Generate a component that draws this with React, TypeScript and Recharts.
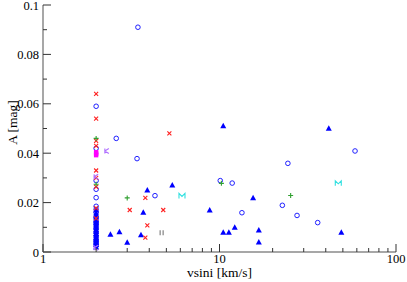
import React from 'react';
import { ScatterChart, Scatter, XAxis, YAxis, Label } from 'recharts';

// ---- data (vsini [km/s], A [mag]) ----
const circleV = [2, 2, 2, 2, 2, 2, 2, 2, 2, 2, 2, 2, 2, 2, 2, 2, 2, 2, 2, 3.45, 2.6, 3.41, 4.31, 10.1, 11.8, 24.4, 58.6, 22.7, 13.4, 27.5, 36.0];
const circleA = [0.059, 0.042, 0.0289, 0.0254, 0.022, 0.0185, 0.0172, 0.016, 0.014, 0.0125, 0.011, 0.0095, 0.008, 0.0065, 0.005, 0.0035, 0.0025, 0.0044, 0.0118, 0.091, 0.046, 0.0378, 0.0228, 0.0289, 0.0279, 0.0359, 0.0409, 0.0189, 0.0159, 0.0148, 0.0119];

const triV = [2, 2, 2, 2, 2, 2, 2, 2, 2, 2, 2, 2, 2, 2, 2, 2, 2, 2, 2, 2.41, 2.71, 3.59, 3.0, 3.9, 3.7, 5.4, 8.8, 10.5, 41.6, 15.5, 10.5, 11.3, 12.2, 16.7, 16.7, 49];
const triA = [0.017, 0.0158, 0.015, 0.0142, 0.013, 0.012, 0.0112, 0.0105, 0.0098, 0.009, 0.0083, 0.0075, 0.0068, 0.006, 0.0052, 0.0045, 0.0038, 0.003, 0.002, 0.0072, 0.0082, 0.007, 0.0039, 0.0251, 0.0161, 0.0271, 0.017, 0.0511, 0.0501, 0.022, 0.008, 0.008, 0.01, 0.0089, 0.004, 0.008];

const crossV = [2, 2, 2, 2, 2, 2, 2, 2, 2, 5.2, 3.8, 3.1, 4.8, 3.9, 3.8];
const crossA = [0.064, 0.054, 0.045, 0.043, 0.033, 0.030, 0.0264, 0.0178, 0.0136, 0.048, 0.0219, 0.017, 0.017, 0.0108, 0.0058];

const plusV = [2, 2, 3.0, 10.25, 25.3];
const plusA = [0.046, 0.0274, 0.0219, 0.0278, 0.0229];

const squareV = [2, 2, 2];
const squareA = [0.0404, 0.0398, 0.0392];

const starV = [2.3, 2, 2];
const starA = [0.0409, 0.0305, 0.0017];

const bowV = [6.13, 47.1];
const bowA = [0.0227, 0.0278];

const barsV = [4.7];
const barsA = [0.0078];

// ---- axes ----
const xTicks = [1, 2, 3, 4, 5, 6, 7, 8, 9, 10, 20, 30, 40, 50, 60, 70, 80, 90, 100];
const xLabelTicks = [1, 10, 100];
const yTicks = [0, 0.01, 0.02, 0.03, 0.04, 0.05, 0.06, 0.07, 0.08, 0.09, 0.1];
const yLabelTicks = [0, 0.02, 0.04, 0.06, 0.08, 0.1];
const yLabelTexts = ['0', '0.02', '0.04', '0.06', '0.08', '0.1'];

const zip = (v: number[], a: number[]) => v.map((x, i) => ({ v: x, a: a[i] }));

const FONT = '"Liberation Serif", "Times New Roman", serif';
const TICK_COLOR = '#333';
const AXIS_LINE = { stroke: '#8a8a8a', strokeWidth: 1.5 };

const yMajorIdx = (val: number) => yLabelTicks.findIndex((m) => Math.abs(m - val) < 1e-9);

const BottomTick = (p: any) => {
  const { x, y, payload } = p;
  const major = xLabelTicks.includes(payload.value);
  return (
    <g>
      <line x1={x} x2={x} y1={y} y2={y - (major ? 8 : 4)} stroke={TICK_COLOR} />
      {major && (
        <text x={x} y={y + 11} textAnchor="middle" fontSize={12.5} fontFamily={FONT} fill="#000">
          {payload.value}
        </text>
      )}
    </g>
  );
};

const TopTick = (p: any) => {
  const { x, y, payload } = p;
  const major = xLabelTicks.includes(payload.value);
  return <line x1={x} x2={x} y1={y} y2={y + (major ? 8 : 4)} stroke={TICK_COLOR} />;
};

const LeftTick = (p: any) => {
  const { x, y, payload } = p;
  const idx = yMajorIdx(payload.value);
  return (
    <g>
      <line x1={x} x2={x + (idx >= 0 ? 8 : 4)} y1={y} y2={y} stroke={TICK_COLOR} />
      {idx >= 0 && (
        <text x={x - 4} y={y + 4.5} textAnchor="end" fontSize={12.5} fontFamily={FONT} fill="#000">
          {yLabelTexts[idx]}
        </text>
      )}
    </g>
  );
};

const RightTick = (p: any) => {
  const { x, y, payload } = p;
  const idx = yMajorIdx(payload.value);
  return <line x1={x} x2={x - (idx >= 0 ? 8 : 4)} y1={y} y2={y} stroke={TICK_COLOR} />;
};

// ---- marker shapes ----
const Circle = (p: any) => <circle cx={p.cx} cy={p.cy} r={2.3} fill="none" stroke="#2020ff" strokeWidth={1} />;
const Tri = (p: any) => (
  <path d={`M${p.cx - 3},${p.cy + 2.5} L${p.cx + 3},${p.cy + 2.5} L${p.cx},${p.cy - 3} Z`} fill="#0000ff" />
);
const Cross = (p: any) => (
  <path d={`M${p.cx - 2},${p.cy - 2} L${p.cx + 2},${p.cy + 2} M${p.cx - 2},${p.cy + 2} L${p.cx + 2},${p.cy - 2}`} stroke="#ff2020" strokeWidth={1.1} />
);
const Plus = (p: any) => (
  <path d={`M${p.cx - 2.5},${p.cy} L${p.cx + 2.5},${p.cy} M${p.cx},${p.cy - 2.5} L${p.cx},${p.cy + 2.5}`} stroke="#30a030" strokeWidth={1.1} />
);
const Square = (p: any) => <rect x={p.cx - 2.2} y={p.cy - 2.2} width={4.4} height={4.4} fill="#ff00ff" />;
const Star = (p: any) => (
  <path d={`M${p.cx - 2},${p.cy - 2.5} L${p.cx - 2},${p.cy + 2.5} M${p.cx - 2},${p.cy} L${p.cx + 2},${p.cy - 2.5} M${p.cx - 2},${p.cy} L${p.cx + 2},${p.cy + 2.5}`} stroke="#b070ff" strokeWidth={1.1} fill="none" />
);
const Bow = (p: any) => (
  <path d={`M${p.cx - 3},${p.cy + 2.5} L${p.cx - 3},${p.cy - 2.5} L${p.cx},${p.cy + 0.5} L${p.cx + 3},${p.cy - 2.5} L${p.cx + 3},${p.cy + 2.5}`} stroke="#30e0e0" strokeWidth={1.1} fill="none" />
);
const Bars = (p: any) => (
  <path d={`M${p.cx - 1.5},${p.cy - 2.5} L${p.cx - 1.5},${p.cy + 2.5} M${p.cx + 1.5},${p.cy - 2.5} L${p.cx + 1.5},${p.cy + 2.5}`} stroke="#777" strokeWidth={1.1} />
);

const YTitle = (p: any) => {
  const vb = p.viewBox;
  const cx = vb.x + 12;
  const cy = vb.y + vb.height / 2 - 6;
  return (
    <text x={cx} y={cy} transform={`rotate(-90 ${cx} ${cy})`} textAnchor="middle" dominantBaseline="central" fontSize={13.5} fontFamily={FONT} fill="#000">
      A [mag]
    </text>
  );
};

const XTitle = (p: any) => {
  const vb = p.viewBox;
  return (
    <text x={vb.x + vb.width / 2} y={vb.y + 25} textAnchor="middle" fontSize={13.5} fontFamily={FONT} fill="#000">
      vsini [km/s]
    </text>
  );
};

export default function App() {
  return (
    <div style={{ position: 'absolute', left: 0, top: 0, width: 407, height: 282, background: '#fff' }}>
      <ScatterChart width={407} height={282} margin={{ top: 5, right: 11, bottom: 0, left: 0 }}>
        <XAxis
          dataKey="v"
          type="number"
          scale="log"
          domain={[1, 100]}
          allowDataOverflow
          ticks={xTicks}
          interval={0}
          height={30}
          tickSize={0}
          tickMargin={0}
          tickLine={false}
          axisLine={AXIS_LINE}
          tick={<BottomTick />}
        >
          <Label content={<XTitle />} />
        </XAxis>
        <XAxis
          xAxisId="top"
          orientation="top"
          dataKey="v"
          type="number"
          scale="log"
          domain={[1, 100]}
          allowDataOverflow
          ticks={xTicks}
          interval={0}
          height={0}
          tickSize={0}
          tickMargin={0}
          tickLine={false}
          axisLine={AXIS_LINE}
          tick={<TopTick />}
        />
        <YAxis
          dataKey="a"
          type="number"
          domain={[0, 0.1]}
          allowDataOverflow
          ticks={yTicks}
          interval={0}
          width={43}
          tickSize={0}
          tickMargin={0}
          tickLine={false}
          axisLine={AXIS_LINE}
          tick={<LeftTick />}
        >
          <Label content={<YTitle />} />
        </YAxis>
        <YAxis
          yAxisId="right"
          orientation="right"
          dataKey="a"
          type="number"
          domain={[0, 0.1]}
          allowDataOverflow
          ticks={yTicks}
          interval={0}
          width={0}
          tickSize={0}
          tickMargin={0}
          tickLine={false}
          axisLine={AXIS_LINE}
          tick={<RightTick />}
        />
        <Scatter data={zip(circleV, circleA)} shape={<Circle />} isAnimationActive={false} />
        <Scatter data={zip(triV, triA)} shape={<Tri />} isAnimationActive={false} />
        <Scatter data={zip(crossV, crossA)} shape={<Cross />} isAnimationActive={false} />
        <Scatter data={zip(plusV, plusA)} shape={<Plus />} isAnimationActive={false} />
        <Scatter data={zip(squareV, squareA)} shape={<Square />} isAnimationActive={false} />
        <Scatter data={zip(starV, starA)} shape={<Star />} isAnimationActive={false} />
        <Scatter data={zip(bowV, bowA)} shape={<Bow />} isAnimationActive={false} />
        <Scatter data={zip(barsV, barsA)} shape={<Bars />} isAnimationActive={false} />
      </ScatterChart>
    </div>
  );
}
